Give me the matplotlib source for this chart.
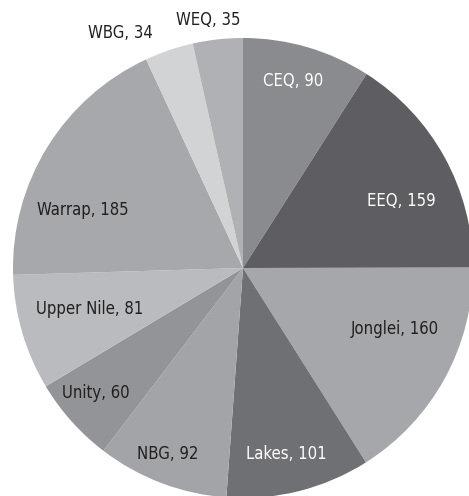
import matplotlib.pyplot as plt
import numpy as np

# data, clockwise from 12 o'clock
states = ['CEQ', 'EEQ', 'Jonglei', 'Lakes', 'NBG', 'Unity',
          'Upper Nile', 'Warrap', 'WBG', 'WEQ']
counts = [90, 159, 160, 101, 92, 60, 81, 185, 34, 35]

colors = ['#8a8b8e', '#5e5e62', '#a5a7aa', '#6f7074', '#a2a4a7',
          '#929498', '#b9bbbe', '#a6a8ab', '#d1d3d5', '#afb1b4']
text_colors = ['white', 'white', '#231f20', 'white', '#231f20',
               '#231f20', '#231f20', '#231f20', '#231f20', '#231f20']
# label placement (radius as fraction of pie radius, angle in degrees)
label_r = [0.84, 0.75, 0.71, 0.83, 0.87, 0.84, 0.69, 0.74, 1.15, 1.09]
label_a = [75, 23, -22, -77, -112, -139.5, -165, 160, 117.5, 98]

fig = plt.figure(figsize=(4.69, 4.96), dpi=100)
ax = fig.add_axes([0, 0, 1, 1])

wedges, _ = ax.pie(counts, colors=colors, startangle=90, counterclock=False,
                   radius=1, wedgeprops=dict(linewidth=0))

for name, val, c, r, a in zip(states, counts, text_colors, label_r, label_a):
    t = np.deg2rad(a)
    ax.text(r * np.cos(t), r * np.sin(t), f'{name}, {val}', color=c,
            ha='center', va='center', fontsize=12, fontfamily='DejaVu Sans',
            fontstretch='condensed')

ax.set_xlim(-243 / 230, (469 - 243) / 230)
ax.set_ylim(-(496 - 268) / 230, 268 / 230)
ax.set_aspect('auto')
ax.axis('off')

fig.savefig('out.png', dpi=100)
